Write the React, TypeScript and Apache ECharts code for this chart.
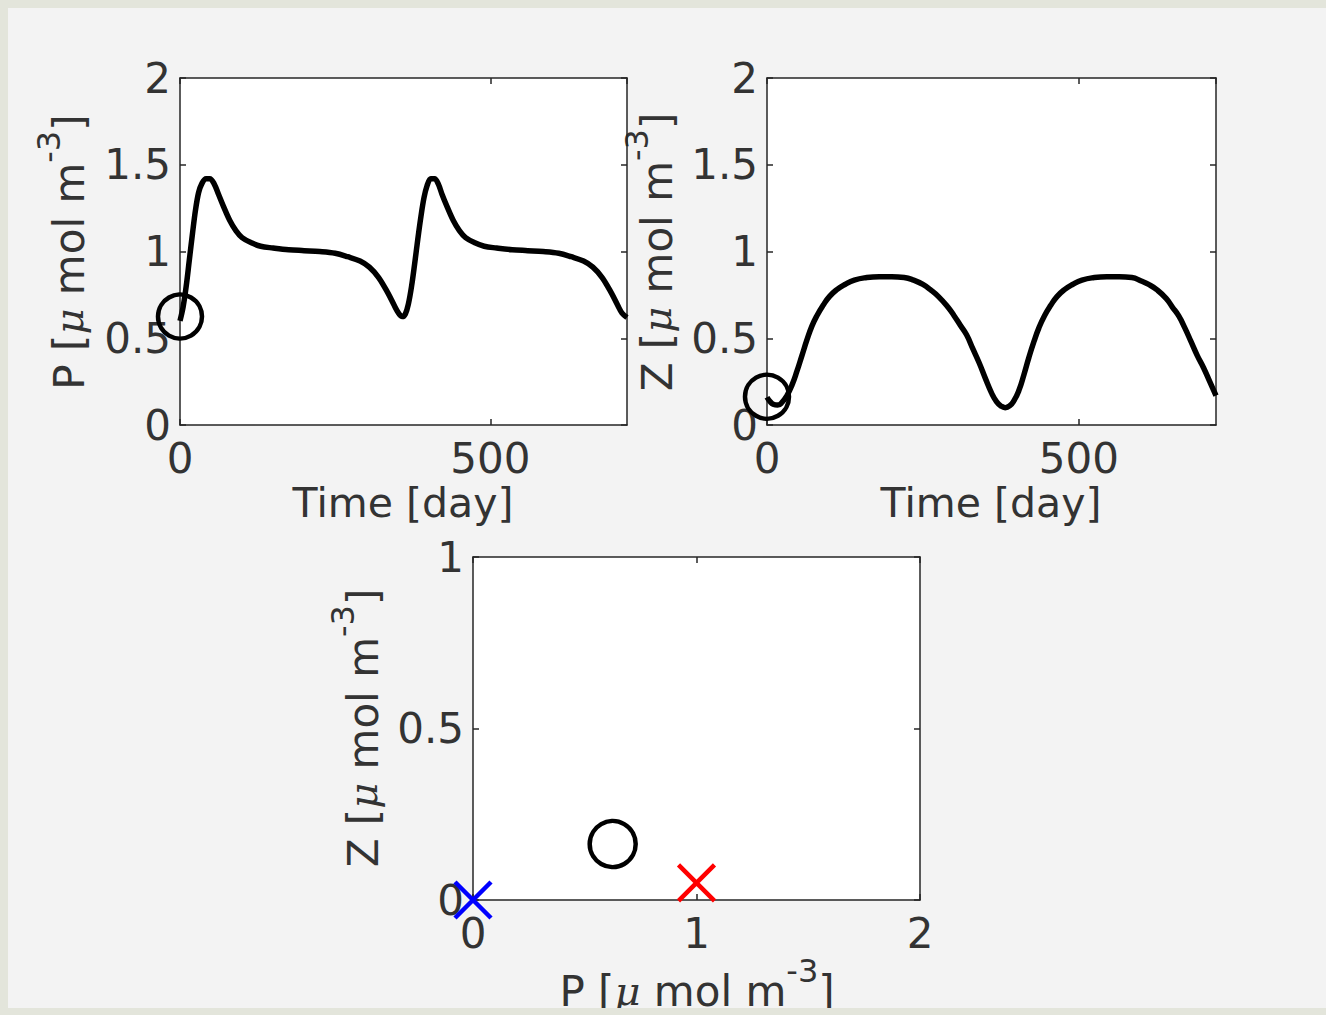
import React, { useEffect, useRef } from "react";
import * as echarts from "echarts";

// ---- data ----
const pTime = [0, 5, 10, 15, 20, 25, 30, 35, 42, 48, 55, 62, 70, 80, 90, 100, 115, 130, 150, 175, 200, 225, 250, 270, 290, 305, 320, 335, 345, 352, 358, 363, 368, 373, 378, 383, 388, 393, 398, 404, 410, 416, 422, 430, 440, 450, 460, 475, 490, 510, 535, 560, 585, 610, 630, 650, 665, 680, 695, 705, 712, 720];
const pValues = [0.6, 0.68, 0.8, 0.95, 1.1, 1.24, 1.34, 1.39, 1.42, 1.42, 1.39, 1.33, 1.26, 1.18, 1.12, 1.08, 1.05, 1.03, 1.02, 1.01, 1.005, 1.0, 0.99, 0.97, 0.945, 0.91, 0.85, 0.76, 0.69, 0.645, 0.625, 0.64, 0.7, 0.8, 0.93, 1.07, 1.2, 1.31, 1.38, 1.42, 1.42, 1.39, 1.33, 1.26, 1.18, 1.12, 1.08, 1.05, 1.03, 1.02, 1.01, 1.005, 1.0, 0.99, 0.97, 0.945, 0.91, 0.85, 0.76, 0.69, 0.645, 0.62];

const zTime = [0, 5, 10, 17, 24, 32, 40, 48, 56, 64, 72, 80, 90, 100, 112, 125, 140, 160, 180, 200, 220, 235, 250, 262, 275, 290, 300, 310, 320, 330, 340, 350, 360, 368, 375, 382, 389, 396, 404, 412, 420, 428, 436, 445, 455, 465, 477, 490, 505, 525, 545, 565, 585, 600, 612, 625, 640, 650, 660, 670, 680, 690, 700, 710, 720];
const zValues = [0.16, 0.135, 0.12, 0.115, 0.13, 0.17, 0.23, 0.31, 0.4, 0.49, 0.57, 0.63, 0.69, 0.74, 0.78, 0.81, 0.835, 0.85, 0.855, 0.855, 0.85, 0.835, 0.81, 0.78, 0.74, 0.68, 0.63, 0.575, 0.52, 0.44, 0.36, 0.27, 0.185, 0.135, 0.11, 0.1, 0.11, 0.14, 0.2, 0.29, 0.39, 0.48, 0.56, 0.63, 0.69, 0.74, 0.78, 0.81, 0.835, 0.85, 0.855, 0.855, 0.85, 0.83, 0.81, 0.78, 0.73, 0.68, 0.63, 0.56, 0.48, 0.4, 0.33, 0.25, 0.17];

const initialState = [0.625, 0.163]; // [P0, Z0]
const trivialEquilibrium = [0, 0];
const preyOnlyEquilibrium = [1, 0.05];

const timeTicks = { min: 0, max: 720, interval: 500 };
const concTicks = { min: 0, max: 2, interval: 0.5 };
const phaseP = { min: 0, max: 2, interval: 1 };
const phaseZ = { min: 0, max: 1, interval: 0.5 };

const xLabel = "Time [day]";

// ---- styles ----
const FONT = "DejaVu Sans";
const TXT = "#333333";
const AX = "#262626";
const TICK_FS = 42;

const grids = [
  { left: 180, top: 78, width: 447, height: 347 },
  { left: 767, top: 78, width: 449, height: 347 },
  { left: 473, top: 557, width: 447, height: 343 },
];

function unitRich() {
  return {
    n: { fontSize: 42, fontFamily: FONT, fill: TXT, lineHeight: 72 },
    mu: { fontSize: 40, fontFamily: "DejaVu Serif", fontStyle: "italic", fill: TXT, lineHeight: 72 },
    sup: { fontSize: 32, fontFamily: FONT, fill: TXT, lineHeight: 38, verticalAlign: "top" },
  };
}

function unitText(v: string) {
  return `{n|${v} [}{mu|μ}{n| mol m}{sup|-3}{n|]}`;
}

const tickStyle = { show: true, inside: true, length: 6, lineStyle: { color: AX, width: 1.5 } };
const lineStyleAx = { show: true, onZero: false, lineStyle: { color: AX, width: 1.5 } };

function mainX(gi: number, r: any, hideMax: boolean) {
  return {
    type: "value",
    gridIndex: gi,
    position: "bottom",
    min: r.min,
    max: r.max,
    interval: r.interval,
    axisLine: lineStyleAx,
    axisTick: tickStyle,
    axisLabel: { show: true, color: TXT, fontSize: TICK_FS, fontFamily: FONT, margin: 16, lineHeight: 34, showMaxLabel: !hideMax },
    splitLine: { show: false },
  };
}
function mirrorX(gi: number, r: any) {
  return {
    type: "value",
    gridIndex: gi,
    position: "top",
    min: r.min,
    max: r.max,
    interval: r.interval,
    axisLine: lineStyleAx,
    axisTick: tickStyle,
    axisLabel: { show: false },
    splitLine: { show: false },
  };
}
function mainY(gi: number, r: any) {
  return {
    type: "value",
    gridIndex: gi,
    position: "left",
    min: r.min,
    max: r.max,
    interval: r.interval,
    axisLine: lineStyleAx,
    axisTick: tickStyle,
    axisLabel: { show: true, color: TXT, fontSize: TICK_FS, fontFamily: FONT, margin: 9 },
    splitLine: { show: false },
  };
}
function mirrorY(gi: number, r: any) {
  return {
    type: "value",
    gridIndex: gi,
    position: "right",
    min: r.min,
    max: r.max,
    interval: r.interval,
    axisLine: lineStyleAx,
    axisTick: tickStyle,
    axisLabel: { show: false },
    splitLine: { show: false },
  };
}

const CROSS = "path://M0,0L10,10M10,0L0,10";

function marker(xi: number, data: number[][], symbol: string, size: number, color: string, bw: number) {
  return {
    type: "scatter",
    xAxisIndex: xi,
    yAxisIndex: xi,
    data,
    symbol,
    symbolSize: size,
    itemStyle: { color: "rgba(0,0,0,0)", borderColor: color, borderWidth: bw, opacity: 1 },
    emphasis: { disabled: true },
    z: 4,
  };
}

export default function App() {
  const ref = useRef<HTMLDivElement>(null);
  useEffect(() => {
    if (!ref.current) return;
    const chart = echarts.init(ref.current, null, { renderer: "svg" });
    const pData = pTime.map((t, i) => [t, pValues[i]]);
    const zData = zTime.map((t, i) => [t, zValues[i]]);
    const option: any = {
      animation: false,
      backgroundColor: "transparent",
      grid: grids.map((g) => ({
        ...g,
        show: true,
        backgroundColor: "#ffffff",
        borderWidth: 0,
        containLabel: false,
        outerBoundsMode: "none",
      })),
      xAxis: [
        mainX(0, timeTicks, true),
        mainX(1, timeTicks, true),
        mainX(2, phaseP, false),
        mirrorX(0, timeTicks),
        mirrorX(1, timeTicks),
        mirrorX(2, phaseP),
      ],
      yAxis: [
        mainY(0, concTicks),
        mainY(1, concTicks),
        mainY(2, phaseZ),
        mirrorY(0, concTicks),
        mirrorY(1, concTicks),
        mirrorY(2, phaseZ),
      ],
      series: [
        {
          type: "line",
          name: "P",
          xAxisIndex: 0,
          yAxisIndex: 0,
          data: pData,
          showSymbol: false,
          smooth: 0.35,
          lineStyle: { color: "#000", width: 5.5 },
          z: 3,
        },
        marker(0, [[0, initialState[0]]], "circle", 44, "#000", 4.5),
        {
          type: "line",
          name: "Z",
          xAxisIndex: 1,
          yAxisIndex: 1,
          data: zData,
          showSymbol: false,
          smooth: 0.5,
          lineStyle: { color: "#000", width: 5.5 },
          z: 3,
        },
        marker(1, [[0, initialState[1]]], "circle", 44, "#000", 4.5),
        marker(2, [initialState], "circle", 46, "#000", 4.5),
        marker(2, [trivialEquilibrium], CROSS, 36, "#0000ff", 4.5),
        marker(2, [preyOnlyEquilibrium], CROSS, 36, "#ff0000", 4.5),
      ],
      graphic: [
        {
          type: "text",
          x: 403,
          y: 503,
          style: { text: xLabel, fontSize: 41, lineHeight: 34, fontFamily: FONT, fill: TXT, align: "center", verticalAlign: "middle" },
        },
        {
          type: "text",
          x: 991,
          y: 503,
          style: { text: xLabel, fontSize: 41, lineHeight: 34, fontFamily: FONT, fill: TXT, align: "center", verticalAlign: "middle" },
        },
        {
          type: "text",
          x: 69,
          y: 252,
          rotation: Math.PI / 2,
          style: { text: unitText("P"), rich: unitRich(), align: "center", verticalAlign: "middle" },
        },
        {
          type: "text",
          x: 657,
          y: 252,
          rotation: Math.PI / 2,
          style: { text: unitText("Z"), rich: unitRich(), align: "center", verticalAlign: "middle" },
        },
        {
          type: "text",
          x: 363,
          y: 728,
          rotation: Math.PI / 2,
          style: { text: unitText("Z"), rich: unitRich(), align: "center", verticalAlign: "middle" },
        },
        {
          type: "text",
          x: 697,
          y: 991,
          style: { text: unitText("P"), rich: unitRich(), align: "center", verticalAlign: "middle" },
        },
      ],
    };
    chart.setOption(option);
    return () => chart.dispose();
  }, []);

  const border = "#e3e5db";
  return (
    <div style={{ position: "fixed", left: 0, top: 0, width: 1326, height: 1015, background: border, overflow: "hidden" }}>
      <div style={{ position: "absolute", left: 8, top: 8, width: 1318, height: 1000, background: "#f3f3f3" }} />
      <div ref={ref} style={{ position: "absolute", left: 0, top: 0, width: 1326, height: 1015 }} />
      <div style={{ position: "absolute", left: 0, top: 1008, width: 1326, height: 7, background: border, zIndex: 2 }} />
    </div>
  );
}
